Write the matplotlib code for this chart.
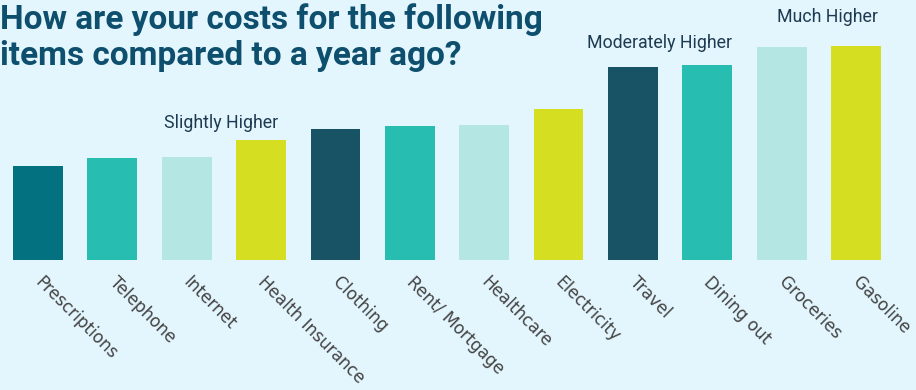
"""Bar chart of how household costs changed compared to a year ago."""

import matplotlib
matplotlib.use("Agg")
import matplotlib.pyplot as plt

# survey items, ordered from smallest to largest increase
items = [
    "Prescriptions", "Telephone", "Internet", "Health Insurance", "Clothing",
    "Rent/ Mortgage", "Healthcare", "Electricity", "Travel", "Dining out",
    "Groceries", "Gasoline",
]
scores = [94, 102, 103, 120.5, 131.5, 134, 135.5, 151.5, 193, 195, 213, 214]

# group labels: text, x (item index) and height they sit at
group_labels = ["Slightly Higher", "Moderately Higher", "Much Higher"]
group_x = [2.46, 8.36, 10.61]
group_y = [137, 217, 243]

bar_colors = [
    "#03717F", "#27BDB0", "#B4E6E4", "#D6DE22",
    "#185265", "#27BDB0", "#B4E6E4", "#D6DE22",
    "#185265", "#27BDB0", "#B4E6E4", "#D6DE22",
]
bg = "#E3F6FE"

fig = plt.figure(figsize=(9.16, 3.9), dpi=100, facecolor=bg)
ax = fig.add_axes([0, 0, 1, 1])
ax.set_facecolor(bg)

x = list(range(len(items)))
ax.bar(x, scores, width=0.67, color=bar_colors, zorder=2)
ax.set_xlim(-0.511, 11.807)
ax.set_ylim(-130, 260)
ax.axis("off")

for i, name in enumerate(items):
    ax.text(i + 0.08, -13, name, rotation=-45, rotation_mode="anchor",
            ha="left", va="top", fontsize=12.2, family="DejaVu Sans",
            color="#444444")

for text, gx, gy in zip(group_labels, group_x, group_y):
    ax.text(gx, gy, text, ha="center", va="center", fontsize=12.8,
            family="Roboto", color="#1D3A50")

fig.text(0.0, 0.833, "How are your costs for the following\nitems compared to a year ago?",
         ha="left", va="baseline", fontsize=24, fontweight="bold",
         family="Roboto", color="#0E4F6D", linespacing=1.15)

fig.savefig("out.png", dpi=100, facecolor=bg)
